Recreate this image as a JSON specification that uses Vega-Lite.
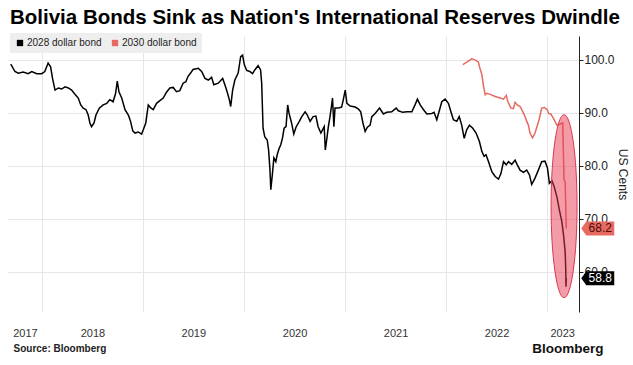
{
  "$schema": "https://vega.github.io/schema/vega-lite/v6.json",
  "width": 571,
  "height": 276,
  "autosize": {"type": "none"},
  "padding": {"left": 8, "top": 36, "right": 54, "bottom": 53},
  "background": "#ffffff",
  "title": {
    "text": "Bolivia Bonds Sink as Nation's International Reserves Dwindle",
    "anchor": "start",
    "frame": "group",
    "font": "Liberation Sans",
    "fontSize": 20.5,
    "fontWeight": "bold",
    "color": "#000000",
    "baseline": "alphabetic",
    "offset": 10,
    "dx": 2,
    "dy": 21
  },
  "config": {
    "view": {"stroke": null},
    "font": "Liberation Sans",
    "axis": {"labelFont": "Liberation Sans", "titleFont": "Liberation Sans"},
    "legend": {"labelFont": "Liberation Sans"}
  },
  "datasets": {
    "bonds": [
      {"bond": "2028 dollar bond", "date": "2017-09-10", "value": 99.2},
      {"bond": "2028 dollar bond", "date": "2017-09-25", "value": 97.8},
      {"bond": "2028 dollar bond", "date": "2017-10-07", "value": 97.5},
      {"bond": "2028 dollar bond", "date": "2017-10-25", "value": 97.7},
      {"bond": "2028 dollar bond", "date": "2017-11-12", "value": 97.4},
      {"bond": "2028 dollar bond", "date": "2017-11-25", "value": 97.8},
      {"bond": "2028 dollar bond", "date": "2017-12-13", "value": 97.4},
      {"bond": "2028 dollar bond", "date": "2017-12-31", "value": 97.4},
      {"bond": "2028 dollar bond", "date": "2018-01-11", "value": 97.8},
      {"bond": "2028 dollar bond", "date": "2018-01-23", "value": 99.4},
      {"bond": "2028 dollar bond", "date": "2018-02-01", "value": 98.7},
      {"bond": "2028 dollar bond", "date": "2018-02-08", "value": 96.5},
      {"bond": "2028 dollar bond", "date": "2018-02-17", "value": 94.3},
      {"bond": "2028 dollar bond", "date": "2018-03-01", "value": 94.7},
      {"bond": "2028 dollar bond", "date": "2018-03-13", "value": 94.5},
      {"bond": "2028 dollar bond", "date": "2018-03-25", "value": 94.9},
      {"bond": "2028 dollar bond", "date": "2018-04-06", "value": 94.7},
      {"bond": "2028 dollar bond", "date": "2018-04-18", "value": 94.3},
      {"bond": "2028 dollar bond", "date": "2018-04-30", "value": 93.5},
      {"bond": "2028 dollar bond", "date": "2018-05-12", "value": 92.8},
      {"bond": "2028 dollar bond", "date": "2018-05-21", "value": 91.5},
      {"bond": "2028 dollar bond", "date": "2018-05-30", "value": 90.9},
      {"bond": "2028 dollar bond", "date": "2018-06-09", "value": 90.6},
      {"bond": "2028 dollar bond", "date": "2018-06-17", "value": 89.6},
      {"bond": "2028 dollar bond", "date": "2018-06-23", "value": 88.1},
      {"bond": "2028 dollar bond", "date": "2018-06-29", "value": 87.4},
      {"bond": "2028 dollar bond", "date": "2018-07-08", "value": 88.1},
      {"bond": "2028 dollar bond", "date": "2018-07-15", "value": 89.6},
      {"bond": "2028 dollar bond", "date": "2018-07-27", "value": 90.9},
      {"bond": "2028 dollar bond", "date": "2018-08-10", "value": 91.5},
      {"bond": "2028 dollar bond", "date": "2018-08-23", "value": 91.8},
      {"bond": "2028 dollar bond", "date": "2018-09-03", "value": 92.5},
      {"bond": "2028 dollar bond", "date": "2018-09-15", "value": 92.1},
      {"bond": "2028 dollar bond", "date": "2018-09-24", "value": 93.7},
      {"bond": "2028 dollar bond", "date": "2018-09-30", "value": 96.0},
      {"bond": "2028 dollar bond", "date": "2018-10-06", "value": 94.0},
      {"bond": "2028 dollar bond", "date": "2018-10-16", "value": 92.8},
      {"bond": "2028 dollar bond", "date": "2018-10-28", "value": 90.6},
      {"bond": "2028 dollar bond", "date": "2018-11-09", "value": 89.6},
      {"bond": "2028 dollar bond", "date": "2018-11-17", "value": 88.4},
      {"bond": "2028 dollar bond", "date": "2018-11-25", "value": 86.6},
      {"bond": "2028 dollar bond", "date": "2018-12-03", "value": 86.2},
      {"bond": "2028 dollar bond", "date": "2018-12-15", "value": 86.4},
      {"bond": "2028 dollar bond", "date": "2018-12-27", "value": 86.0},
      {"bond": "2028 dollar bond", "date": "2019-01-02", "value": 86.8},
      {"bond": "2028 dollar bond", "date": "2019-01-11", "value": 88.1},
      {"bond": "2028 dollar bond", "date": "2019-01-20", "value": 91.5},
      {"bond": "2028 dollar bond", "date": "2019-01-28", "value": 91.0},
      {"bond": "2028 dollar bond", "date": "2019-02-07", "value": 90.6},
      {"bond": "2028 dollar bond", "date": "2019-02-19", "value": 91.8},
      {"bond": "2028 dollar bond", "date": "2019-03-03", "value": 92.3},
      {"bond": "2028 dollar bond", "date": "2019-03-15", "value": 92.8},
      {"bond": "2028 dollar bond", "date": "2019-03-27", "value": 93.9},
      {"bond": "2028 dollar bond", "date": "2019-04-08", "value": 94.7},
      {"bond": "2028 dollar bond", "date": "2019-04-20", "value": 94.8},
      {"bond": "2028 dollar bond", "date": "2019-05-02", "value": 94.0},
      {"bond": "2028 dollar bond", "date": "2019-05-14", "value": 94.2},
      {"bond": "2028 dollar bond", "date": "2019-05-26", "value": 95.6},
      {"bond": "2028 dollar bond", "date": "2019-06-05", "value": 95.9},
      {"bond": "2028 dollar bond", "date": "2019-06-13", "value": 96.9},
      {"bond": "2028 dollar bond", "date": "2019-06-26", "value": 97.8},
      {"bond": "2028 dollar bond", "date": "2019-07-01", "value": 98.2},
      {"bond": "2028 dollar bond", "date": "2019-07-20", "value": 98.4},
      {"bond": "2028 dollar bond", "date": "2019-08-01", "value": 97.8},
      {"bond": "2028 dollar bond", "date": "2019-08-13", "value": 96.5},
      {"bond": "2028 dollar bond", "date": "2019-08-25", "value": 96.2},
      {"bond": "2028 dollar bond", "date": "2019-09-06", "value": 96.7},
      {"bond": "2028 dollar bond", "date": "2019-09-14", "value": 95.3},
      {"bond": "2028 dollar bond", "date": "2019-09-30", "value": 95.6},
      {"bond": "2028 dollar bond", "date": "2019-10-16", "value": 96.5},
      {"bond": "2028 dollar bond", "date": "2019-10-24", "value": 95.3},
      {"bond": "2028 dollar bond", "date": "2019-11-01", "value": 94.0},
      {"bond": "2028 dollar bond", "date": "2019-11-09", "value": 92.5},
      {"bond": "2028 dollar bond", "date": "2019-11-14", "value": 91.2},
      {"bond": "2028 dollar bond", "date": "2019-11-21", "value": 94.3},
      {"bond": "2028 dollar bond", "date": "2019-11-29", "value": 96.2},
      {"bond": "2028 dollar bond", "date": "2019-12-11", "value": 97.5},
      {"bond": "2028 dollar bond", "date": "2019-12-20", "value": 100.6},
      {"bond": "2028 dollar bond", "date": "2019-12-27", "value": 100.9},
      {"bond": "2028 dollar bond", "date": "2020-01-02", "value": 99.1},
      {"bond": "2028 dollar bond", "date": "2020-01-11", "value": 98.0},
      {"bond": "2028 dollar bond", "date": "2020-01-22", "value": 97.8},
      {"bond": "2028 dollar bond", "date": "2020-02-01", "value": 97.4},
      {"bond": "2028 dollar bond", "date": "2020-02-09", "value": 98.1},
      {"bond": "2028 dollar bond", "date": "2020-02-21", "value": 98.9},
      {"bond": "2028 dollar bond", "date": "2020-03-01", "value": 98.1},
      {"bond": "2028 dollar bond", "date": "2020-03-05", "value": 95.6},
      {"bond": "2028 dollar bond", "date": "2020-03-10", "value": 87.1},
      {"bond": "2028 dollar bond", "date": "2020-03-16", "value": 85.5},
      {"bond": "2028 dollar bond", "date": "2020-03-25", "value": 84.9},
      {"bond": "2028 dollar bond", "date": "2020-03-30", "value": 83.0},
      {"bond": "2028 dollar bond", "date": "2020-04-04", "value": 79.2},
      {"bond": "2028 dollar bond", "date": "2020-04-07", "value": 75.5},
      {"bond": "2028 dollar bond", "date": "2020-04-13", "value": 78.6},
      {"bond": "2028 dollar bond", "date": "2020-04-18", "value": 81.5},
      {"bond": "2028 dollar bond", "date": "2020-04-25", "value": 80.8},
      {"bond": "2028 dollar bond", "date": "2020-04-30", "value": 82.1},
      {"bond": "2028 dollar bond", "date": "2020-05-07", "value": 83.3},
      {"bond": "2028 dollar bond", "date": "2020-05-13", "value": 84.0},
      {"bond": "2028 dollar bond", "date": "2020-05-19", "value": 85.2},
      {"bond": "2028 dollar bond", "date": "2020-05-25", "value": 87.1},
      {"bond": "2028 dollar bond", "date": "2020-06-01", "value": 87.4},
      {"bond": "2028 dollar bond", "date": "2020-06-07", "value": 91.5},
      {"bond": "2028 dollar bond", "date": "2020-06-12", "value": 89.9},
      {"bond": "2028 dollar bond", "date": "2020-06-21", "value": 88.1},
      {"bond": "2028 dollar bond", "date": "2020-06-29", "value": 86.0},
      {"bond": "2028 dollar bond", "date": "2020-07-07", "value": 87.3},
      {"bond": "2028 dollar bond", "date": "2020-07-19", "value": 88.4},
      {"bond": "2028 dollar bond", "date": "2020-07-28", "value": 89.3},
      {"bond": "2028 dollar bond", "date": "2020-08-09", "value": 90.2},
      {"bond": "2028 dollar bond", "date": "2020-08-17", "value": 89.6},
      {"bond": "2028 dollar bond", "date": "2020-08-27", "value": 88.4},
      {"bond": "2028 dollar bond", "date": "2020-09-07", "value": 89.3},
      {"bond": "2028 dollar bond", "date": "2020-09-17", "value": 89.4},
      {"bond": "2028 dollar bond", "date": "2020-09-25", "value": 87.4},
      {"bond": "2028 dollar bond", "date": "2020-10-05", "value": 86.2},
      {"bond": "2028 dollar bond", "date": "2020-10-11", "value": 86.8},
      {"bond": "2028 dollar bond", "date": "2020-10-17", "value": 87.4},
      {"bond": "2028 dollar bond", "date": "2020-10-21", "value": 83.0},
      {"bond": "2028 dollar bond", "date": "2020-10-26", "value": 84.9},
      {"bond": "2028 dollar bond", "date": "2020-11-01", "value": 87.4},
      {"bond": "2028 dollar bond", "date": "2020-11-07", "value": 89.3},
      {"bond": "2028 dollar bond", "date": "2020-11-13", "value": 91.5},
      {"bond": "2028 dollar bond", "date": "2020-11-16", "value": 92.8},
      {"bond": "2028 dollar bond", "date": "2020-11-21", "value": 87.4},
      {"bond": "2028 dollar bond", "date": "2020-11-25", "value": 90.9},
      {"bond": "2028 dollar bond", "date": "2020-12-07", "value": 90.9},
      {"bond": "2028 dollar bond", "date": "2020-12-19", "value": 91.1},
      {"bond": "2028 dollar bond", "date": "2020-12-25", "value": 92.5},
      {"bond": "2028 dollar bond", "date": "2021-01-01", "value": 94.3},
      {"bond": "2028 dollar bond", "date": "2021-01-07", "value": 91.8},
      {"bond": "2028 dollar bond", "date": "2021-01-19", "value": 91.3},
      {"bond": "2028 dollar bond", "date": "2021-02-06", "value": 91.1},
      {"bond": "2028 dollar bond", "date": "2021-02-18", "value": 90.7},
      {"bond": "2028 dollar bond", "date": "2021-02-26", "value": 90.2},
      {"bond": "2028 dollar bond", "date": "2021-03-06", "value": 88.1},
      {"bond": "2028 dollar bond", "date": "2021-03-14", "value": 86.5},
      {"bond": "2028 dollar bond", "date": "2021-03-22", "value": 87.3},
      {"bond": "2028 dollar bond", "date": "2021-04-01", "value": 87.7},
      {"bond": "2028 dollar bond", "date": "2021-04-07", "value": 89.3},
      {"bond": "2028 dollar bond", "date": "2021-04-19", "value": 89.9},
      {"bond": "2028 dollar bond", "date": "2021-05-05", "value": 90.9},
      {"bond": "2028 dollar bond", "date": "2021-05-19", "value": 89.8},
      {"bond": "2028 dollar bond", "date": "2021-05-31", "value": 90.1},
      {"bond": "2028 dollar bond", "date": "2021-06-18", "value": 90.2},
      {"bond": "2028 dollar bond", "date": "2021-07-04", "value": 90.9},
      {"bond": "2028 dollar bond", "date": "2021-07-12", "value": 90.4},
      {"bond": "2028 dollar bond", "date": "2021-07-28", "value": 90.1},
      {"bond": "2028 dollar bond", "date": "2021-08-12", "value": 90.2},
      {"bond": "2028 dollar bond", "date": "2021-08-30", "value": 90.2},
      {"bond": "2028 dollar bond", "date": "2021-09-11", "value": 91.6},
      {"bond": "2028 dollar bond", "date": "2021-09-19", "value": 92.6},
      {"bond": "2028 dollar bond", "date": "2021-09-29", "value": 91.5},
      {"bond": "2028 dollar bond", "date": "2021-10-11", "value": 90.6},
      {"bond": "2028 dollar bond", "date": "2021-10-23", "value": 89.8},
      {"bond": "2028 dollar bond", "date": "2021-11-10", "value": 89.9},
      {"bond": "2028 dollar bond", "date": "2021-11-18", "value": 90.1},
      {"bond": "2028 dollar bond", "date": "2021-11-28", "value": 88.7},
      {"bond": "2028 dollar bond", "date": "2021-12-08", "value": 90.6},
      {"bond": "2028 dollar bond", "date": "2021-12-16", "value": 92.1},
      {"bond": "2028 dollar bond", "date": "2021-12-28", "value": 92.6},
      {"bond": "2028 dollar bond", "date": "2022-01-09", "value": 91.8},
      {"bond": "2028 dollar bond", "date": "2022-01-18", "value": 90.2},
      {"bond": "2028 dollar bond", "date": "2022-01-27", "value": 88.7},
      {"bond": "2028 dollar bond", "date": "2022-02-08", "value": 88.4},
      {"bond": "2028 dollar bond", "date": "2022-02-17", "value": 89.3},
      {"bond": "2028 dollar bond", "date": "2022-02-26", "value": 87.7},
      {"bond": "2028 dollar bond", "date": "2022-03-07", "value": 85.2},
      {"bond": "2028 dollar bond", "date": "2022-03-16", "value": 86.8},
      {"bond": "2028 dollar bond", "date": "2022-03-26", "value": 87.7},
      {"bond": "2028 dollar bond", "date": "2022-04-07", "value": 87.1},
      {"bond": "2028 dollar bond", "date": "2022-04-19", "value": 86.2},
      {"bond": "2028 dollar bond", "date": "2022-05-01", "value": 84.6},
      {"bond": "2028 dollar bond", "date": "2022-05-10", "value": 82.7},
      {"bond": "2028 dollar bond", "date": "2022-05-18", "value": 81.8},
      {"bond": "2028 dollar bond", "date": "2022-05-25", "value": 82.1},
      {"bond": "2028 dollar bond", "date": "2022-06-03", "value": 80.8},
      {"bond": "2028 dollar bond", "date": "2022-06-15", "value": 78.9},
      {"bond": "2028 dollar bond", "date": "2022-06-27", "value": 78.0},
      {"bond": "2028 dollar bond", "date": "2022-07-09", "value": 77.5},
      {"bond": "2028 dollar bond", "date": "2022-07-18", "value": 78.6},
      {"bond": "2028 dollar bond", "date": "2022-07-27", "value": 80.8},
      {"bond": "2028 dollar bond", "date": "2022-08-06", "value": 80.2},
      {"bond": "2028 dollar bond", "date": "2022-08-14", "value": 80.8},
      {"bond": "2028 dollar bond", "date": "2022-08-26", "value": 80.3},
      {"bond": "2028 dollar bond", "date": "2022-09-07", "value": 81.1},
      {"bond": "2028 dollar bond", "date": "2022-09-15", "value": 80.2},
      {"bond": "2028 dollar bond", "date": "2022-09-25", "value": 79.2},
      {"bond": "2028 dollar bond", "date": "2022-10-07", "value": 78.8},
      {"bond": "2028 dollar bond", "date": "2022-10-19", "value": 79.2},
      {"bond": "2028 dollar bond", "date": "2022-10-29", "value": 78.3},
      {"bond": "2028 dollar bond", "date": "2022-11-06", "value": 76.5},
      {"bond": "2028 dollar bond", "date": "2022-11-18", "value": 77.7},
      {"bond": "2028 dollar bond", "date": "2022-11-30", "value": 79.2},
      {"bond": "2028 dollar bond", "date": "2022-12-12", "value": 80.8},
      {"bond": "2028 dollar bond", "date": "2022-12-24", "value": 80.9},
      {"bond": "2028 dollar bond", "date": "2023-01-02", "value": 79.6},
      {"bond": "2028 dollar bond", "date": "2023-01-09", "value": 76.7},
      {"bond": "2028 dollar bond", "date": "2023-01-18", "value": 77.2},
      {"bond": "2028 dollar bond", "date": "2023-01-26", "value": 76.1},
      {"bond": "2028 dollar bond", "date": "2023-02-05", "value": 74.2},
      {"bond": "2028 dollar bond", "date": "2023-02-14", "value": 71.7},
      {"bond": "2028 dollar bond", "date": "2023-02-23", "value": 69.5},
      {"bond": "2028 dollar bond", "date": "2023-03-01", "value": 67.0},
      {"bond": "2028 dollar bond", "date": "2023-03-07", "value": 63.8},
      {"bond": "2028 dollar bond", "date": "2023-03-09", "value": 60.7},
      {"bond": "2028 dollar bond", "date": "2023-03-10", "value": 57.2},
      {"bond": "2028 dollar bond", "date": "2023-03-11", "value": 58.8},
      {"bond": "2030 dollar bond", "date": "2022-03-02", "value": 99.1},
      {"bond": "2030 dollar bond", "date": "2022-03-18", "value": 99.6},
      {"bond": "2030 dollar bond", "date": "2022-04-03", "value": 100.2},
      {"bond": "2030 dollar bond", "date": "2022-04-15", "value": 100.0},
      {"bond": "2030 dollar bond", "date": "2022-04-27", "value": 99.6},
      {"bond": "2030 dollar bond", "date": "2022-05-03", "value": 98.4},
      {"bond": "2030 dollar bond", "date": "2022-05-10", "value": 97.2},
      {"bond": "2030 dollar bond", "date": "2022-05-15", "value": 95.3},
      {"bond": "2030 dollar bond", "date": "2022-05-22", "value": 93.4},
      {"bond": "2030 dollar bond", "date": "2022-05-28", "value": 93.7},
      {"bond": "2030 dollar bond", "date": "2022-06-09", "value": 93.5},
      {"bond": "2030 dollar bond", "date": "2022-06-27", "value": 93.1},
      {"bond": "2030 dollar bond", "date": "2022-07-15", "value": 92.8},
      {"bond": "2030 dollar bond", "date": "2022-07-27", "value": 92.6},
      {"bond": "2030 dollar bond", "date": "2022-08-06", "value": 93.3},
      {"bond": "2030 dollar bond", "date": "2022-08-12", "value": 92.1},
      {"bond": "2030 dollar bond", "date": "2022-08-23", "value": 90.9},
      {"bond": "2030 dollar bond", "date": "2022-09-01", "value": 90.8},
      {"bond": "2030 dollar bond", "date": "2022-09-07", "value": 92.0},
      {"bond": "2030 dollar bond", "date": "2022-09-15", "value": 91.5},
      {"bond": "2030 dollar bond", "date": "2022-09-25", "value": 91.2},
      {"bond": "2030 dollar bond", "date": "2022-10-05", "value": 90.2},
      {"bond": "2030 dollar bond", "date": "2022-10-13", "value": 89.3},
      {"bond": "2030 dollar bond", "date": "2022-10-19", "value": 88.4},
      {"bond": "2030 dollar bond", "date": "2022-10-25", "value": 87.7},
      {"bond": "2030 dollar bond", "date": "2022-10-31", "value": 86.2},
      {"bond": "2030 dollar bond", "date": "2022-11-09", "value": 85.3},
      {"bond": "2030 dollar bond", "date": "2022-11-18", "value": 86.2},
      {"bond": "2030 dollar bond", "date": "2022-11-25", "value": 87.4},
      {"bond": "2030 dollar bond", "date": "2022-12-04", "value": 89.0},
      {"bond": "2030 dollar bond", "date": "2022-12-12", "value": 90.9},
      {"bond": "2030 dollar bond", "date": "2022-12-22", "value": 91.0},
      {"bond": "2030 dollar bond", "date": "2023-01-01", "value": 90.6},
      {"bond": "2030 dollar bond", "date": "2023-01-06", "value": 89.9},
      {"bond": "2030 dollar bond", "date": "2023-01-14", "value": 89.8},
      {"bond": "2030 dollar bond", "date": "2023-01-23", "value": 89.0},
      {"bond": "2030 dollar bond", "date": "2023-02-05", "value": 87.7},
      {"bond": "2030 dollar bond", "date": "2023-02-17", "value": 87.9},
      {"bond": "2030 dollar bond", "date": "2023-02-26", "value": 88.1},
      {"bond": "2030 dollar bond", "date": "2023-03-03", "value": 77.4},
      {"bond": "2030 dollar bond", "date": "2023-03-07", "value": 77.0},
      {"bond": "2030 dollar bond", "date": "2023-03-11", "value": 68.2}
    ],
    "highlight": [
      {"date": "2023-03-03", "value": 72.4}
    ]
  },
  "resolve": {
    "axis": {"x": "independent", "y": "independent"},
    "legend": {"color": "independent"}
  },
  "layer": [
    {
      "data": {"name": "bonds", "format": {"parse": {"date": "date"}}},
      "mark": {"type": "line", "strokeWidth": 1.5, "interpolate": "linear"},
      "encoding": {
        "x": {
          "field": "date",
          "type": "temporal",
          "scale": {
            "type": "utc",
            "domain": [
              {"year": 2017, "month": 8, "date": 31, "utc": true},
              {"year": 2023, "month": 4, "date": 26, "utc": true}
            ]
          },
          "axis": {
            "orient": "bottom",
            "values": [
              {"year": 2017, "month": 10, "date": 31, "utc": true},
              {"year": 2018, "month": 7, "date": 2, "utc": true},
              {"year": 2019, "month": 7, "date": 2, "utc": true},
              {"year": 2020, "month": 7, "date": 2, "utc": true},
              {"year": 2021, "month": 7, "date": 2, "utc": true},
              {"year": 2022, "month": 7, "date": 2, "utc": true},
              {"year": 2023, "month": 2, "date": 24, "utc": true}
            ],
            "labelExpr": "utcFormat(datum.value, '%Y')",
            "grid": false,
            "ticks": false,
            "domain": false,
            "labelFontSize": 11,
            "labelColor": "#333333",
            "labelPadding": 15,
            "labelFlush": false,
            "labelOverlap": false,
            "labelAlign": "center",
            "title": "Source: Bloomberg",
            "titleX": 5,
            "titleY": 39,
            "titleAlign": "left",
            "titleBaseline": "alphabetic",
            "titleAngle": 0,
            "titleFontSize": 10,
            "titleFontWeight": "bold",
            "titleColor": "#222222"
          }
        },
        "y": {
          "field": "value",
          "type": "quantitative",
          "scale": {"domain": [52.45, 104.5], "nice": false, "zero": false},
          "axis": {
            "orient": "right",
            "values": [60, 70, 80, 90, 100],
            "format": ".1f",
            "grid": true,
            "gridColor": "#e6e6e6",
            "domain": true,
            "domainColor": "#222222",
            "tickColor": "#222222",
            "tickSize": 4,
            "labelFontSize": 12,
            "labelPadding": 1,
            "labelColor": "#222222",
            "title": "US Cents",
            "titleFontSize": 12,
            "titleFontWeight": "normal",
            "titleColor": "#222222",
            "titlePadding": 1
          }
        },
        "color": {
          "field": "bond",
          "type": "nominal",
          "scale": {"domain": ["2028 dollar bond", "2030 dollar bond"], "range": ["#000000", "#e66a62"]},
          "legend": null
        }
      }
    },
    {
      "data": {"name": "highlight", "format": {"parse": {"date": "date"}}},
      "mark": {
        "type": "point",
        "shape": "M0,-1 C0.0784,-1 0.142,-0.5523 0.142,0 C0.142,0.5523 0.0784,1 0,1 C-0.0784,1 -0.142,0.5523 -0.142,0 C-0.142,-0.5523 -0.0784,-1 0,-1 Z",
        "size": 33489,
        "filled": true,
        "fill": "#e8384f",
        "fillOpacity": 0.5,
        "stroke": "#d63a50",
        "strokeWidth": 1,
        "opacity": 1
      },
      "encoding": {
        "x": {
          "field": "date",
          "type": "temporal",
          "axis": {
            "orient": "bottom",
            "values": [
              {"year": 2018, "month": 1, "date": 1, "utc": true},
              {"year": 2019, "month": 1, "date": 1, "utc": true},
              {"year": 2020, "month": 1, "date": 1, "utc": true},
              {"year": 2021, "month": 1, "date": 1, "utc": true},
              {"year": 2022, "month": 1, "date": 1, "utc": true},
              {"year": 2023, "month": 1, "date": 1, "utc": true}
            ],
            "grid": true,
            "gridColor": "#e6e6e6",
            "labels": false,
            "ticks": false,
            "domain": false,
            "title": "Bloomberg",
            "titleX": 595,
            "titleY": 40,
            "titleAlign": "right",
            "titleBaseline": "alphabetic",
            "titleAngle": 0,
            "titleFontSize": 13.5,
            "titleFontWeight": "bold",
            "titleColor": "#111111"
          }
        },
        "y": {"field": "value", "type": "quantitative", "axis": null}
      }
    },
    {
      "data": {"name": "bonds", "format": {"parse": {"date": "date"}}},
      "transform": [
        {"joinaggregate": [{"op": "max", "field": "date", "as": "maxd"}], "groupby": ["bond"]},
        {"filter": "time(datum.date) == time(datum.maxd)"}
      ],
      "mark": {
        "type": "point",
        "shape": "M1.5,0 L2,-0.7 L4.8,-0.7 L4.8,0.7 L2,0.7 Z",
        "size": 400,
        "filled": true,
        "opacity": 1,
        "strokeWidth": 0
      },
      "encoding": {
        "x": {"field": "date", "type": "temporal", "axis": null},
        "y": {"field": "value", "type": "quantitative", "axis": null},
        "color": {
          "field": "bond",
          "type": "nominal",
          "legend": {
            "orient": "none",
            "legendX": 2,
            "legendY": -3,
            "direction": "horizontal",
            "title": null,
            "symbolType": "square",
            "symbolSize": 40,
            "symbolStrokeWidth": 0,
            "labelFontSize": 10,
            "labelColor": "#222222",
            "fillColor": "#eeeeee",
            "padding": 5,
            "columnPadding": 8,
            "labelOffset": 2
          }
        }
      }
    },
    {
      "data": {"name": "bonds", "format": {"parse": {"date": "date"}}},
      "transform": [
        {"joinaggregate": [{"op": "max", "field": "date", "as": "maxd"}], "groupby": ["bond"]},
        {"filter": "time(datum.date) == time(datum.maxd)"}
      ],
      "mark": {"type": "text", "dx": 34, "align": "center", "baseline": "middle", "fontSize": 12, "font": "Liberation Sans"},
      "encoding": {
        "x": {"field": "date", "type": "temporal", "axis": null},
        "y": {"field": "value", "type": "quantitative", "axis": null},
        "text": {"field": "value", "type": "quantitative", "format": ".1f"},
        "color": {
          "condition": {"test": "datum.bond === '2028 dollar bond'", "value": "#ffffff"},
          "value": "#4d0c08"
        }
      }
    }
  ]
}
